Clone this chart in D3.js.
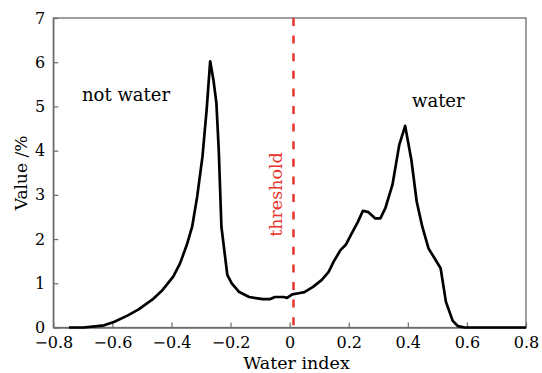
<!DOCTYPE html>
<html>
<head>
<meta charset="utf-8">
<script src="https://cdn.jsdelivr.net/npm/d3@7"></script>
<style>
  body { margin: 0; background: #fff; }
</style>
</head>
<body>
<div id="chart"></div>
<script>
// datos
var waterIndex = [-0.747, -0.698, -0.652, -0.628, -0.593, -0.546, -0.511, -0.476, -0.465, -0.430,
    -0.394, -0.371, -0.348, -0.330, -0.313, -0.295, -0.281, -0.269, -0.258, -0.248,
    -0.240, -0.231, -0.211, -0.196, -0.172, -0.137, -0.091, -0.067, -0.050, -0.020,
    -0.009, 0.009, 0.026, 0.050, 0.079, 0.108, 0.132, 0.149, 0.172, 0.190,
    0.207, 0.231, 0.248, 0.266, 0.289, 0.307, 0.324, 0.348, 0.371, 0.391,
    0.412, 0.430, 0.449, 0.470, 0.491, 0.511, 0.529, 0.552, 0.570, 0.593, 0.8];
var valuePct = [0, 0, 0.03, 0.05, 0.13, 0.28, 0.41, 0.58, 0.63, 0.85,
    1.15, 1.45, 1.87, 2.28, 2.96, 3.87, 4.92, 6.02, 5.60, 5.08,
    4.02, 2.28, 1.19, 1.00, 0.81, 0.69, 0.64, 0.64, 0.69, 0.69,
    0.67, 0.75, 0.77, 0.80, 0.92, 1.07, 1.26, 1.49, 1.75, 1.87,
    2.09, 2.39, 2.64, 2.61, 2.47, 2.47, 2.70, 3.23, 4.13, 4.56,
    3.79, 2.85, 2.28, 1.79, 1.56, 1.34, 0.58, 0.15, 0.03, 0, 0];
var xTicks = [-0.8, -0.6, -0.4, -0.2, 0, 0.2, 0.4, 0.6, 0.8];
var yTicks = [0, 1, 2, 3, 4, 5, 6, 7];
var threshold = 0.013;

var width = 542, height = 373;
var margin = {top: 18, right: 16, bottom: 45.5, left: 53.3};
var red = "#e8322b";
var serif = "'DejaVu Serif', 'Liberation Serif', serif";

var svg = d3.select("#chart").append("svg")
    .attr("width", width)
    .attr("height", height)
    .style("display", "block");

var x = d3.scaleLinear()
    .domain([-0.8, 0.8])
    .range([margin.left, width - margin.right]);

var y = d3.scaleLinear()
    .domain([0, 7])
    .range([height - margin.bottom, margin.top]);

var fmt = function(d) { return d === 0 ? "0" : d3.format(".1f")(d).replace("-", "\u2212"); };

// marco
svg.append("rect")
    .attr("x", x(-0.8))
    .attr("y", y(7))
    .attr("width", x(0.8) - x(-0.8))
    .attr("height", y(0) - y(7))
    .attr("fill", "none")
    .attr("stroke", "#6b6b6b")
    .attr("stroke-width", 1.3);

var xAxis = svg.append("g")
    .attr("transform", "translate(0," + y(0) + ")")
    .call(d3.axisBottom(x).tickValues(xTicks).tickFormat(fmt).tickSizeInner(-5).tickSizeOuter(0).tickPadding(9));

var yAxis = svg.append("g")
    .attr("transform", "translate(" + x(-0.8) + ",0)")
    .call(d3.axisLeft(y).tickValues(yTicks).tickFormat(d3.format("d")).tickSizeInner(-5).tickSizeOuter(0).tickPadding(8));

[xAxis, yAxis].forEach(function(a) {
    a.attr("font-family", serif).attr("font-size", 16);
    a.select(".domain").attr("stroke", "#6b6b6b").attr("stroke-width", 1.3);
    a.selectAll(".tick line").attr("stroke", "#6b6b6b").attr("stroke-width", 1.2);
    a.selectAll(".tick text").attr("fill", "#000");
});

// linea del umbral
svg.append("line")
    .attr("x1", x(threshold))
    .attr("x2", x(threshold))
    .attr("y1", y(7))
    .attr("y2", y(0))
    .attr("stroke", red)
    .attr("stroke-width", 2.5)
    .attr("stroke-dasharray", "8,9.6");

// curva
var points = waterIndex.map(function(d, i) { return [d, valuePct[i]]; });
var line = d3.line()
    .x(function(d) { return x(d[0]); })
    .y(function(d) { return y(d[1]); });

svg.append("path")
    .datum(points)
    .attr("d", line)
    .attr("fill", "none")
    .attr("stroke", "#000")
    .attr("stroke-width", 2.7)
    .attr("stroke-linejoin", "round");

// textos
function label(txt, tx, ty, rot, size, color, anchor) {
    svg.append("text")
        .attr("transform", "translate(" + tx + "," + ty + ")" + (rot ? " rotate(" + rot + ")" : ""))
        .attr("text-anchor", anchor)
        .attr("font-family", serif)
        .attr("font-size", size)
        .attr("fill", color)
        .text(txt);
}

label("not water", 82, 101, 0, 18, "#000", "start");
label("water", 412, 107, 0, 18, "#000", "start");
label("threshold", 282, 194.5, -90, 17.5, red, "middle");
label("Value /%", 27, 173, -90, 17, "#000", "middle");
label("Water index", 296.5, 369, 0, 17.5, "#000", "middle");
</script>
</body>
</html>
